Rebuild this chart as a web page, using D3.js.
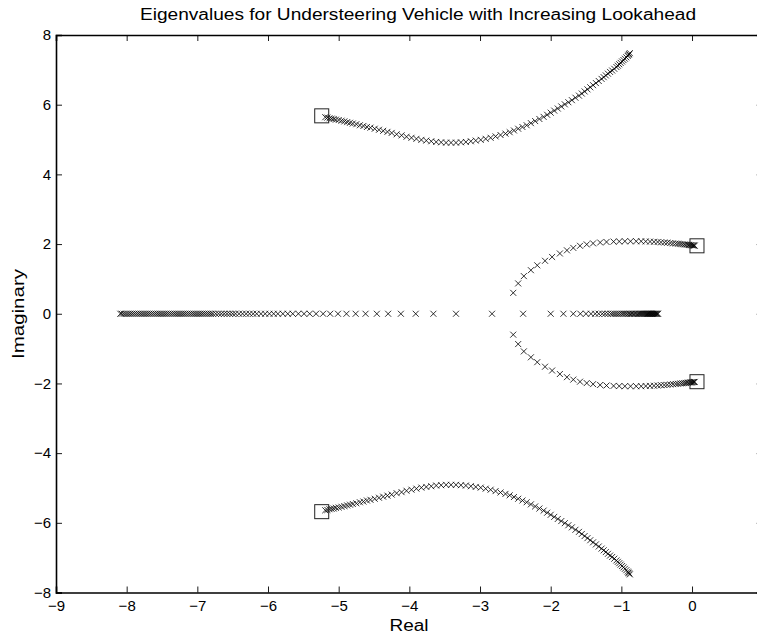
<!DOCTYPE html>
<html>
<head>
<meta charset="utf-8">
<script src="https://cdn.jsdelivr.net/npm/d3@7"></script>
<style>
  body { margin: 0; background: #fff; }
  svg { display: block; font-family: "Liberation Sans", Arial, Helvetica, sans-serif; }
</style>
</head>
<body>
<svg id="chart" width="757" height="636"></svg>
<script>
// eigenvalues (upper half; lower half is the conjugate)
var outerRe = [-5.19, -5.16, -5.13, -5.10, -5.07, -5.04, -5.00, -4.96, -4.92, -4.88, -4.84, -4.80, -4.75, -4.70, -4.65,
  -4.60, -4.55, -4.49, -4.43, -4.37, -4.31, -4.25, -4.18, -4.11, -4.04, -3.97, -3.90, -3.83, -3.76, -3.69, -3.62,
  -3.55, -3.48, -3.41, -3.34, -3.27, -3.20, -3.13, -3.06, -2.99, -2.92, -2.85, -2.78, -2.71, -2.64, -2.58, -2.52,
  -2.46, -2.40, -2.34, -2.28, -2.22, -2.16, -2.10, -2.05, -2.00, -1.95, -1.90, -1.85, -1.80, -1.75, -1.70, -1.65,
  -1.60, -1.56, -1.52, -1.48, -1.44, -1.40, -1.36, -1.32, -1.28, -1.25, -1.22, -1.19, -1.16, -1.13, -1.10, -1.07,
  -1.05, -1.03, -1.01, -0.99, -0.97, -0.95, -0.93, -0.91, -0.90, -0.89, -0.88];
var outerIm = [5.64, 5.63, 5.61, 5.60, 5.59, 5.57, 5.56, 5.54, 5.52, 5.50, 5.48, 5.46, 5.44, 5.41, 5.39,
  5.36, 5.34, 5.31, 5.28, 5.25, 5.22, 5.19, 5.15, 5.12, 5.08, 5.05, 5.02, 4.99, 4.97, 4.95, 4.93,
  4.92, 4.91, 4.91, 4.91, 4.92, 4.93, 4.95, 4.97, 4.99, 5.02, 5.05, 5.09, 5.13, 5.17, 5.21, 5.26,
  5.31, 5.36, 5.41, 5.47, 5.53, 5.59, 5.65, 5.71, 5.77, 5.83, 5.89, 5.95, 6.01, 6.07, 6.13, 6.20,
  6.26, 6.32, 6.38, 6.44, 6.50, 6.56, 6.62, 6.68, 6.74, 6.79, 6.84, 6.89, 6.94, 6.98, 7.03, 7.08,
  7.12, 7.16, 7.20, 7.24, 7.28, 7.32, 7.36, 7.40, 7.43, 7.45, 7.48];

var innerRe = [0.038, 0.028, 0.018, 0.004, -0.01, -0.024, -0.042, -0.061, -0.085, -0.109, -0.137, -0.166, -0.198,
  -0.231, -0.269, -0.307, -0.35, -0.392, -0.439, -0.486, -0.538, -0.594, -0.655, -0.72, -0.79, -0.87, -0.95,
  -1.03, -1.11, -1.21, -1.30, -1.40, -1.49, -1.585, -1.68, -1.77, -1.87, -1.98, -2.08, -2.19, -2.28, -2.38,
  -2.46, -2.53];
var innerIm = [1.955, 1.96, 1.96, 1.965, 1.97, 1.97, 1.975, 1.98, 1.985, 1.99, 1.995, 2.0, 2.01,
  2.015, 2.02, 2.03, 2.04, 2.045, 2.05, 2.06, 2.065, 2.07, 2.075, 2.08, 2.08, 2.08, 2.08,
  2.075, 2.07, 2.06, 2.045, 2.02, 1.99, 1.95, 1.89, 1.82, 1.73, 1.63, 1.52, 1.39, 1.25, 1.08,
  0.87, 0.60];

var realLeft = [-2.83, -3.34, -3.66, -3.91, -4.12, -4.30, -4.46, -4.62, -4.76, -4.89, -5.01, -5.12, -5.22, -5.32,
  -5.41, -5.49, -5.57, -5.65, -5.72, -5.79, -5.86, -5.92, -5.98, -6.04, -6.10, -6.16, -6.21, -6.26, -6.31,
  -6.36, -6.41, -6.46, -6.50, -6.54, -6.58, -6.62, -6.66, -6.70, -6.74, -6.78, -6.81, -6.84, -6.87, -6.90,
  -6.93, -6.96, -6.99, -7.02, -7.05, -7.08, -7.11, -7.14, -7.17, -7.20, -7.23, -7.26, -7.29, -7.32, -7.35,
  -7.38, -7.41, -7.44, -7.47, -7.50, -7.53, -7.56, -7.59, -7.62, -7.65, -7.68, -7.71, -7.74, -7.77, -7.80,
  -7.83, -7.86, -7.89, -7.92, -7.95, -7.98, -8.01, -8.04, -8.07, -8.09];

var realRight = [-2.39, -2.0, -1.82, -1.68, -1.58, -1.50, -1.43, -1.37, -1.32, -1.27, -1.23, -1.19, -1.15, -1.12,
  -1.09, -1.06, -1.03, -1.0, -0.975, -0.95, -0.925, -0.90, -0.88, -0.86, -0.84, -0.82, -0.80, -0.78, -0.76,
  -0.745, -0.73, -0.715, -0.70, -0.685, -0.67, -0.655, -0.64, -0.63, -0.62, -0.61, -0.60, -0.59, -0.58,
  -0.57, -0.56, -0.55, -0.54, -0.53, -0.52, -0.51, -0.50, -0.49, -0.48];

// starting eigenvalues (squares)
var startRe = [-5.24, 0.07];
var startIm = [5.68, 1.95];

var xTicks = [-9, -8, -7, -6, -5, -4, -3, -2, -1, 0];
var yTicks = [-8, -6, -4, -2, 0, 2, 4, 6, 8];

var svg = d3.select("#chart");

var margin = {top: 35, left: 56},
    width = 706.7,
    height = 557.5;

var x = d3.scaleLinear().domain([-9, 1]).range([0, width]),
    y = d3.scaleLinear().domain([-8, 8]).range([height, 0]);

var g = svg.append("g")
    .attr("transform", "translate(" + margin.left + "," + margin.top + ")");

// build the point table, conjugate pairs included
var pts = [];
outerRe.forEach(function(r, i) {
  pts.push([r, outerIm[i]]);
  pts.push([r, -outerIm[i]]);
});
innerRe.forEach(function(r, i) {
  pts.push([r, innerIm[i]]);
  pts.push([r, -innerIm[i]]);
});
realLeft.forEach(function(r) { pts.push([r, 0]); });
realRight.forEach(function(r) { pts.push([r, 0]); });

var starts = [];
startRe.forEach(function(r, i) {
  starts.push([r, startIm[i]]);
  starts.push([r, -startIm[i]]);
});

var minus = function(d) { return d < 0 ? "\u2212" + (-d) : d; };

// axes box with inward ticks
var tickLen = 6;

g.append("g")
    .attr("transform", "translate(0," + height + ")")
    .call(d3.axisBottom(x).tickValues(xTicks).tickSize(-tickLen).tickPadding(8).tickFormat(minus));

g.append("g")
    .call(d3.axisTop(x).tickValues(xTicks).tickSize(-tickLen).tickFormat(""));

g.append("g")
    .call(d3.axisLeft(y).tickValues(yTicks).tickSize(-tickLen).tickPadding(5).tickFormat(minus));

g.append("g")
    .attr("transform", "translate(" + width + ",0)")
    .call(d3.axisRight(y).tickValues(yTicks).tickSize(-tickLen).tickFormat(""));

g.selectAll(".domain")
    .attr("stroke", "#000")
    .attr("stroke-width", 1.6);

g.selectAll(".tick line")
    .attr("stroke", "#000")
    .attr("stroke-width", 0.9);

g.selectAll(".tick text")
    .attr("fill", "#000")
    .style("font-size", "15px");

// markers
g.selectAll(".pt")
  .data(pts)
  .enter().append("path")
    .attr("class", "pt")
    .attr("transform", function(d) { return "translate(" + x(d[0]) + "," + y(d[1]) + ")"; })
    .attr("d", "M-3,-3L3,3M-3,3L3,-3")
    .attr("fill", "none")
    .attr("stroke", "#000")
    .attr("stroke-width", 0.8);

g.selectAll(".start")
  .data(starts)
  .enter().append("rect")
    .attr("class", "start")
    .attr("x", function(d) { return x(d[0]) - 7; })
    .attr("y", function(d) { return y(d[1]) - 7; })
    .attr("width", 14)
    .attr("height", 14)
    .attr("fill", "none")
    .attr("stroke", "#222")
    .attr("stroke-width", 1);

// labels
svg.append("text")
    .attr("x", 418)
    .attr("y", 20)
    .attr("text-anchor", "middle")
    .attr("textLength", 556)
    .attr("lengthAdjust", "spacingAndGlyphs")
    .style("font-size", "16px")
    .text("Eigenvalues for Understeering Vehicle with Increasing Lookahead");

svg.append("text")
    .attr("x", 409)
    .attr("y", 631)
    .attr("text-anchor", "middle")
    .attr("textLength", 39)
    .attr("lengthAdjust", "spacingAndGlyphs")
    .style("font-size", "16px")
    .text("Real");

svg.append("text")
    .attr("transform", "translate(24,314) rotate(-90)")
    .attr("text-anchor", "middle")
    .attr("textLength", 90)
    .attr("lengthAdjust", "spacingAndGlyphs")
    .style("font-size", "16px")
    .text("Imaginary");
</script>
</body>
</html>
